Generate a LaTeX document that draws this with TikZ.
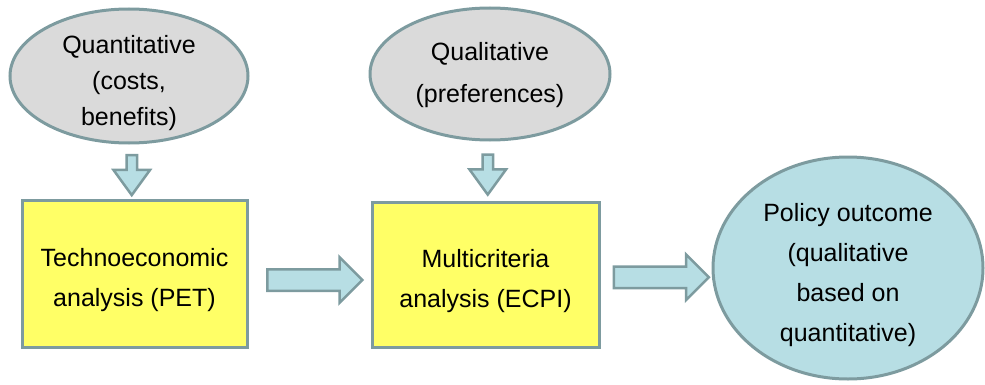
\documentclass[tikz,border=0pt]{standalone}
\usepackage{fontspec}
\setmainfont{Liberation Sans}
\definecolor{edgegray}{RGB}{125,155,159}
\definecolor{ellgray}{RGB}{218,218,218}
\definecolor{boxyellow}{RGB}{255,255,102}
\definecolor{arrowblue}{RGB}{183,222,228}
\usetikzlibrary{positioning,shapes.geometric,shapes.arrows,calc}

\begin{document}
\begin{tikzpicture}[x=1pt, y=1pt,
  every node/.style={font=\fontsize{25}{40}\selectfont},
  ell/.style={ellipse, draw=edgegray, line width=3pt},
  bx/.style={rectangle, draw=edgegray, fill=boxyellow, line width=3pt},
  txt/.style={align=center, yshift=-7pt, inner sep=0pt},
  blk/.style={single arrow, draw=edgegray, fill=arrowblue, line width=2.5pt, inner sep=0pt,
    text height=0pt, text depth=0pt},
  dnarrow/.style={blk, shape border rotate=270, text width=8pt, single arrow head extend=13pt,
    single arrow tip angle=72, minimum height=40pt},
  rtarrow/.style={blk, text height=19pt, single arrow head extend=12pt, minimum height=95pt}]
\useasboundingbox (0,0) rectangle (985,384);
% Inputs
\node[ell, fill=ellgray, minimum width=238pt, minimum height=134pt] (quant) at (129,308) {};
\node[txt, font=\fontsize{25}{36}\selectfont] (quant-txt) at (quant) {Quantitative\\(costs,\\benefits)};
\node[ell, fill=ellgray, minimum width=240pt, minimum height=132pt] (qual) at (490,310) {};
\node[txt, yshift=6pt, font=\fontsize{25}{42}\selectfont] (qual-txt) at (qual) {Qualitative\\(preferences)};
% Analyses
\node[bx, minimum width=225pt, minimum height=147pt] (pet) at (134.5,110.5) {};
\node[txt] (pet-txt) at (pet) {Technoeconomic\\analysis (PET)};
\node[bx, minimum width=227pt, minimum height=145pt] (ecpi) at (485.5,109.5) {};
\node[txt] (ecpi-txt) at (ecpi) {Multicriteria\\analysis (ECPI)};
% Outcome
\node[ell, fill=arrowblue, minimum width=270pt, minimum height=222pt] (policy) at (848,116) {};
\node[txt] (policy-txt) at (policy) {Policy outcome\\(qualitative\\based on\\quantitative)};
% Arrows
\node[dnarrow] (dq) at ($(quant.south)!0.5!(pet.north)$) {};
\node[dnarrow] (dp) at ($(qual.south)!0.5!(ecpi.north)$) {};
\node[rtarrow, yshift=-6pt] (r1) at ($(pet.east)!0.5!(ecpi.west)$) {};
\node[rtarrow, yshift=-6pt] (r2) at ($(ecpi.east)!0.5!(policy.west)$) {};
\end{tikzpicture}
\end{document}
